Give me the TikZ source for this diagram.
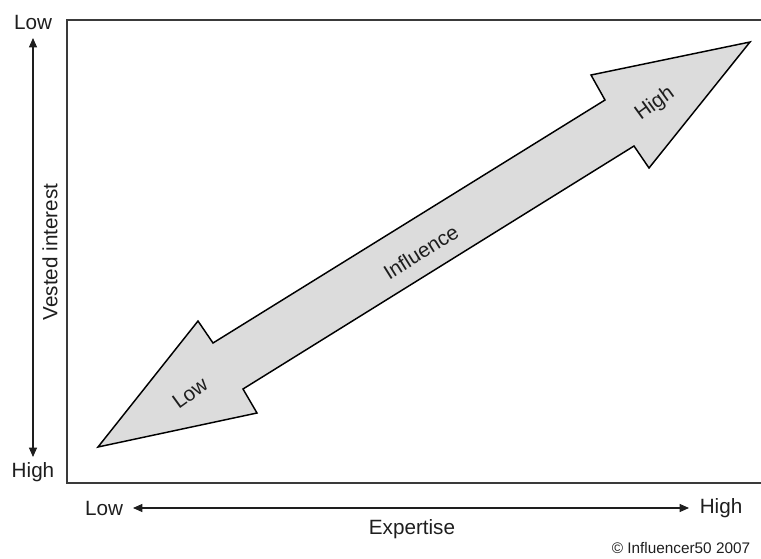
\documentclass[tikz,border=0pt]{standalone}
\usepackage{fontspec}
\setmainfont{Liberation Sans}
\usetikzlibrary{arrows.meta}
\definecolor{boxline}{HTML}{3A3A3A}
\definecolor{arrowfill}{HTML}{DCDCDC}
\definecolor{txt}{HTML}{1E1E1E}
\tikzset{
  lbl/.style={inner sep=0pt, text=txt, font=\fontsize{15.5}{18}\selectfont},
  smalllbl/.style={inner sep=0pt, text=txt, font=\fontsize{11.5}{14}\selectfont},
  axisarrow/.style={draw=txt, line width=0.8pt, -{Triangle[length=7pt,width=6pt]}},
  bigarrow/.style={draw=black, line width=1.1pt, fill=arrowfill, line join=miter},
  frame/.style={draw=boxline, line width=1.6pt}
}
\begin{document}
\begin{tikzpicture}[x=0.75pt,y=-0.75pt]
\useasboundingbox (0,0) rectangle (761,558);
% frame
\draw[frame] (761,20) -- (67,20) -- (67,483) -- (761,483);
% big double arrow
\draw[bigarrow] (98,447) -- (198,321) -- (213,343) -- (605,100) -- (591,75)
  -- (750,42) -- (649,168) -- (634,146) -- (243,389) -- (257,413) -- cycle;
\node[lbl, rotate=32] (infl) at (421,252) {Influence};
\node[lbl, rotate=36] (alow) at (190,393) {Low};
\node[lbl, rotate=36] (ahigh) at (655,104) {High};
% vertical axis
\node[lbl] (vlow) at (33,22) {Low};
\node[lbl] (vhigh) at (33,472) {High};
\node[lbl, rotate=90] (vi) at (50,252) {Vested interest};
\coordinate (vtop) at (33,38);
\coordinate (vbot) at (33,457);
\draw[axisarrow, {Triangle[length=7pt,width=6pt]}-{Triangle[length=7pt,width=6pt]}] (vtop) -- (vbot);
% horizontal axis
\node[lbl] (hlow) at (104,508) {Low};
\node[lbl] (hhigh) at (721,508) {High};
\node[lbl] (exp) at (412,529) {Expertise};
\coordinate (hleft) at (133,508);
\coordinate (hright) at (689,508);
\draw[axisarrow, {Triangle[length=7pt,width=6pt]}-{Triangle[length=7pt,width=6pt]}] (hleft) -- (hright);
% copyright
\node[smalllbl] (copy) at (681,548) {© Influencer50 2007};
\end{tikzpicture}
\end{document}
